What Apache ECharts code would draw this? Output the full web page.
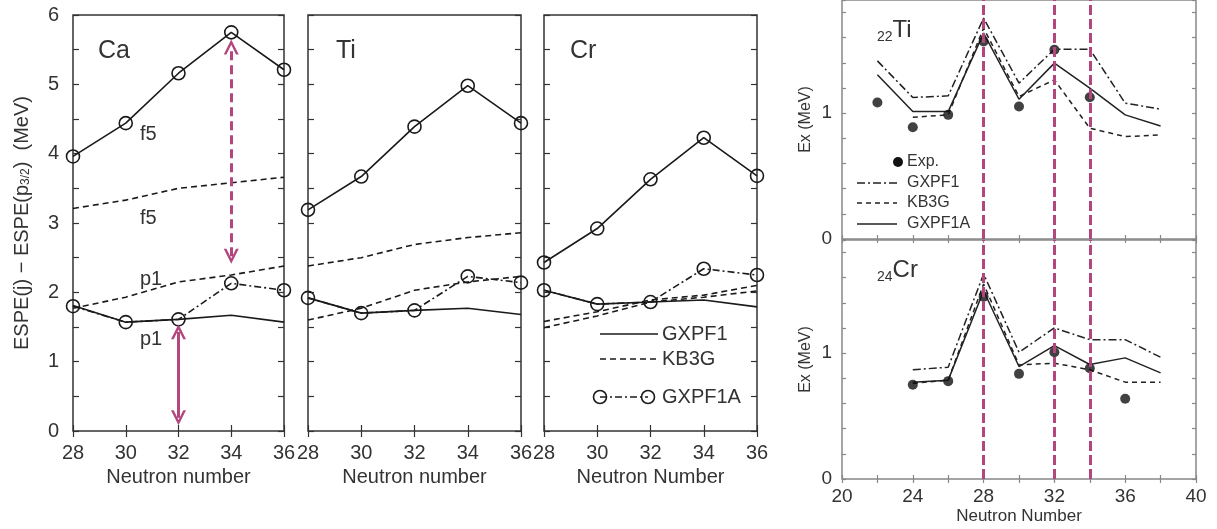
<!DOCTYPE html>
<html>
<head>
<meta charset="utf-8">
<script src="https://cdn.jsdelivr.net/npm/echarts@6/dist/echarts.min.js"></script>
<style>
html,body{margin:0;padding:0;background:#fff;}
#chart{width:1217px;height:529px;}
</style>
</head>
<body>
<div id="chart"></div>
<script>
// ---------- data ----------
const nLeft = [28, 30, 32, 34, 36];
// Ca
const caF5GXPF1A = [3.96, 4.44, 5.16, 5.75, 5.21];
const caF5KB3G   = [3.21, 3.33, 3.50, 3.58, 3.66];
const caP1KB3G   = [1.77, 1.93, 2.15, 2.25, 2.38];
const caP1GXPF1  = [1.81, 1.57, 1.61, 1.67, 1.57];
const caP1GXPF1A = [1.80, 1.57, 1.61, 2.13, 2.03];
// Ti
const tiF5GXPF1A = [3.19, 3.67, 4.39, 4.98, 4.44];
const tiF5KB3G   = [2.38, 2.50, 2.69, 2.79, 2.86];
const tiP1KB3G   = [1.60, 1.77, 2.03, 2.15, 2.23];
const tiP1GXPF1  = [1.92, 1.70, 1.74, 1.77, 1.68];
const tiP1GXPF1A = [1.92, 1.70, 1.74, 2.23, 2.14];
// Cr
const crF5GXPF1A = [2.43, 2.92, 3.63, 4.23, 3.68];
const crF5KB3G   = [1.58, 1.72, 1.89, 1.96, 2.10];
const crP1KB3G   = [1.49, 1.66, 1.86, 1.93, 2.02];
const crP1GXPF1  = [2.03, 1.83, 1.86, 1.89, 1.79];
const crP1GXPF1A = [2.03, 1.83, 1.86, 2.34, 2.25];

// right panels: 2+ excitation energies
const nRight   = [22, 24, 26, 28, 30, 32, 34, 36, 38];
const tiExp    = [1.085, 0.889, 0.987, 1.570, 1.053, 1.504, 1.127, null, null];
const tiGXPF1  = [1.416, 1.125, 1.138, 1.756, 1.239, 1.509, 1.509, 1.080, 1.032];
const tiKB3G   = [null, 0.968, 0.987, 1.676, 1.133, 1.265, 0.881, 0.814, 0.828];
const tiGXPF1A = [1.305, 1.013, 1.013, 1.637, 1.111, 1.398, 1.199, 0.987, 0.899];
const crExp    = [null, 0.749, 0.778, 1.450, 0.836, 1.008, 0.881, 0.638, null];
const crGXPF1  = [null, 0.868, 0.889, 1.630, 1.008, 1.201, 1.108, 1.108, 0.968];
const crKB3G   = [null, 0.760, 0.786, 1.550, 0.907, 0.921, 0.868, 0.770, 0.770];
const crGXPF1A = [null, 0.770, 0.786, 1.497, 0.894, 1.061, 0.910, 0.963, 0.844];

// annotations
const arrowSolid  = [[32, 0.19], [32, 1.43]];
const arrowDashed = [[34, 2.52], [34, 5.54]];
const shellLinesN = [28, 32, 34];

const panelNames = ['Ca', 'Ti', 'Cr'];
const leftXTicks = [28, 30, 32, 34, 36];

// ---------- styling ----------
const FONT = 'Liberation Sans, Arial, sans-serif';
const INK = '#1a1a1a';
const TXT = '#333';
const PINK = '#b3467d';
const DASHDOT = [7, 3, 2, 3];
const DASH = [6, 4];

const grids = [
  {left: 73,  top: 15, width: 211, height: 416},
  {left: 308, top: 15, width: 213, height: 416},
  {left: 544, top: 15, width: 213, height: 416},
  {left: 842, top: 0,  width: 354, height: 239},
  {left: 842, top: 240, width: 354, height: 239}
].map((g, i) => Object.assign(g, {
  show: true, borderColor: i < 3 ? '#333' : '#888', borderWidth: 1.5, backgroundColor: 'transparent'
}));

const xAxes = [], yAxes = [];
function isInt(v) { return Math.abs(v - Math.round(v)) < 1e-6; }
for (let i = 0; i < 5; i++) {
  const left = i < 3;
  const col = left ? '#333' : '#888';
  const tickLen = left ? 6 : 4;
  const xBase = left
    ? {type: 'value', min: 28, max: 36, interval: 2}
    : {type: 'value', min: 20, max: 40, interval: 2};
  const yBase = left
    ? {type: 'value', min: 0, max: 6, interval: 0.5}
    : {type: 'value', min: 0, max: 1.9, interval: 0.2};
  const showXLab = i !== 3;
  xAxes.push(Object.assign({}, xBase, {
    gridIndex: i, position: 'bottom',
    axisLine: {show: false}, splitLine: {show: false},
    axisTick: {show: true, inside: true, length: tickLen, lineStyle: {color: col, width: 1.2}},
    axisLabel: {
      show: showXLab, margin: left ? 12 : 8, fontSize: left ? 20 : 19, color: TXT, fontFamily: FONT,
      formatter: v => left ? String(v) : (v % 4 === 0 ? String(v) : '')
    },
    name: i === 3 ? '' : (i === 2 || i === 4 ? 'Neutron Number' : 'Neutron number'),
    nameLocation: 'middle', nameGap: left ? 36 : 29,
    nameTextStyle: {fontSize: left ? 20 : 17, color: TXT, fontFamily: FONT}
  }));
  xAxes.push(Object.assign({}, xBase, {
    gridIndex: i, position: 'top',
    axisLine: {show: false}, splitLine: {show: false}, axisLabel: {show: false},
    axisTick: {show: true, inside: true, length: tickLen, lineStyle: {color: col, width: 1.2}}
  }));
  const showYLab = (i === 0 || i >= 3);
  yAxes.push(Object.assign({}, yBase, {
    gridIndex: i, position: 'left',
    axisLine: {show: false}, splitLine: {show: false},
    axisTick: {show: true, inside: true, length: tickLen, lineStyle: {color: col, width: 1.2}},
    axisLabel: {
      show: showYLab, margin: left ? 14 : 10, fontSize: left ? 20 : 19, color: TXT, fontFamily: FONT,
      formatter: v => isInt(v) ? String(Math.round(v)) : ''
    },
    name: i === 0 ? 'ESPE(j) − ESPE(p{s|3/2})  (MeV)' : (i >= 3 ? 'Ex (MeV)' : ''),
    nameLocation: 'middle', nameRotate: 90, nameGap: i === 0 ? 41 : 28,
    nameTextStyle: {
      fontSize: i === 0 ? 20 : 16, color: TXT, fontFamily: FONT,
      rich: {s: {fontSize: 12, color: TXT, fontFamily: FONT, verticalAlign: 'bottom', padding: [8, 0, 0, 0]}}
    }
  }));
  yAxes.push(Object.assign({}, yBase, {
    gridIndex: i, position: 'right',
    axisLine: {show: false}, splitLine: {show: false}, axisLabel: {show: false},
    axisTick: {show: true, inside: true, length: tickLen, lineStyle: {color: col, width: 1.2}}
  }));
}

function pairs(xs, ys) { return xs.map((x, k) => [x, ys[k]]).filter(p => p[1] != null); }

function lineSeries(gi, xs, ys, type, circles, extra) {
  return Object.assign({
    type: 'line', xAxisIndex: gi * 2, yAxisIndex: gi * 2,
    data: pairs(xs, ys), silent: true, animation: false, z: 3,
    symbol: circles ? 'circle' : 'none', symbolSize: 13, showSymbol: !!circles,
    itemStyle: {color: 'rgba(255,255,255,0)', borderColor: INK, borderWidth: 1.6},
    lineStyle: {color: INK, width: 1.6, type: type}
  }, extra || {});
}

const CHEVRON = 'path://M0,10 L5,0 L10,10 L8.2,10 L5,3.6 L1.8,10 Z';

const leftSets = [
  [caF5GXPF1A, caF5KB3G, caP1KB3G, caP1GXPF1, caP1GXPF1A],
  [tiF5GXPF1A, tiF5KB3G, tiP1KB3G, tiP1GXPF1, tiP1GXPF1A],
  [crF5GXPF1A, crF5KB3G, crP1KB3G, crP1GXPF1, crP1GXPF1A]
];

const series = [];
leftSets.forEach((s, gi) => {
  series.push(lineSeries(gi, nLeft, s[1], DASH, false));
  series.push(lineSeries(gi, nLeft, s[2], DASH, false));
  series.push(lineSeries(gi, nLeft, s[3], 'solid', false));
  series.push(lineSeries(gi, nLeft, s[4], DASHDOT, true));
  series.push(lineSeries(gi, nLeft, s[0], 'solid', true));
});

// arrows in Ca panel
series.push({
  type: 'line', xAxisIndex: 0, yAxisIndex: 0, data: [], silent: true, animation: false, z: 6,
  markLine: {
    silent: true, animation: false, symbol: [CHEVRON, CHEVRON], symbolSize: 15,
    label: {show: false},
    lineStyle: {color: PINK, width: 3, type: 'solid'},
    data: [
      [{coord: arrowSolid[0], lineStyle: {type: 'solid', color: PINK, width: 3}},
       {coord: arrowSolid[1]}],
      [{coord: arrowDashed[0], lineStyle: {type: [9, 5], color: PINK, width: 3}},
       {coord: arrowDashed[1]}]
    ]
  }
});

// right panels
[[3, tiExp, tiGXPF1, tiKB3G, tiGXPF1A], [4, crExp, crGXPF1, crKB3G, crGXPF1A]].forEach(p => {
  const gi = p[0];
  series.push(lineSeries(gi, nRight, p[2], [8, 3, 2, 3], false, {lineStyle: {color: '#222', width: 1.5, type: [8, 3, 2, 3]}}));
  series.push(lineSeries(gi, nRight, p[3], [5, 4], false, {lineStyle: {color: '#222', width: 1.5, type: [5, 4]}}));
  series.push(lineSeries(gi, nRight, p[4], 'solid', false, {lineStyle: {color: '#222', width: 1.5, type: 'solid'}}));
  series.push({
    type: 'scatter', xAxisIndex: gi * 2, yAxisIndex: gi * 2, data: pairs(nRight, p[1]),
    symbol: 'circle', symbolSize: 10, itemStyle: {color: '#111'}, silent: true, animation: false, z: 4
  });
  series.push({
    type: 'line', xAxisIndex: gi * 2, yAxisIndex: gi * 2, data: [], silent: true, animation: false, z: 8,
    markLine: {
      silent: true, animation: false, symbol: ['none', 'none'], label: {show: false},
      lineStyle: {color: PINK, width: 3, type: [10, 4]},
      data: shellLinesN.map(n => ({xAxis: n}))
    }
  });
});

// ---------- text & legends ----------
const graphic = [];
function txt(x, y, text, size, extra) {
  graphic.push(Object.assign({
    type: 'text', x: x, y: y, silent: true,
    style: Object.assign({text: text, fontSize: size, fill: TXT, fontFamily: FONT, verticalAlign: 'middle'}, extra || {})
  }));
}
txt(98, 51, panelNames[0], 25);
txt(336, 51, panelNames[1], 25);
txt(570, 51, panelNames[2], 25);
txt(140, 134, 'f5', 20);
txt(140, 218, 'f5', 20);
txt(140, 279, 'p1', 20);
txt(140, 339, 'p1', 20);

// left legend (Cr panel)
graphic.push({type: 'line', silent: true, shape: {x1: 600, y1: 334, x2: 658, y2: 334}, style: {stroke: INK, lineWidth: 1.6}});
graphic.push({type: 'line', silent: true, shape: {x1: 600, y1: 359, x2: 658, y2: 359}, style: {stroke: INK, lineWidth: 1.6, lineDash: DASH}});
graphic.push({type: 'line', silent: true, shape: {x1: 600, y1: 397, x2: 648, y2: 397}, style: {stroke: INK, lineWidth: 1.6, lineDash: DASHDOT}});
graphic.push({type: 'circle', silent: true, shape: {cx: 600, cy: 397, r: 6.5}, style: {fill: 'rgba(255,255,255,0)', stroke: INK, lineWidth: 1.6}});
graphic.push({type: 'circle', silent: true, shape: {cx: 648, cy: 397, r: 6.5}, style: {fill: 'rgba(255,255,255,0)', stroke: INK, lineWidth: 1.6}});
txt(662, 334, 'GXPF1', 20);
txt(662, 359, 'KB3G', 20);
txt(662, 397, 'GXPF1A', 20);

// right legend (Ti panel)
graphic.push({type: 'circle', silent: true, shape: {cx: 898, cy: 162, r: 5}, style: {fill: '#111'}});
graphic.push({type: 'line', silent: true, shape: {x1: 857, y1: 183, x2: 897, y2: 183}, style: {stroke: '#222', lineWidth: 1.5, lineDash: [8, 3, 2, 3]}});
graphic.push({type: 'line', silent: true, shape: {x1: 857, y1: 203, x2: 897, y2: 203}, style: {stroke: '#222', lineWidth: 1.5, lineDash: [5, 4]}});
graphic.push({type: 'line', silent: true, shape: {x1: 857, y1: 224, x2: 897, y2: 224}, style: {stroke: '#222', lineWidth: 1.5}});
txt(907, 162, 'Exp.', 16);
txt(907, 183, 'GXPF1', 16);
txt(907, 203, 'KB3G', 16);
txt(907, 224, 'GXPF1A', 16);

// nucleus labels
graphic.push({type: 'text', x: 877, y: 16, silent: true, style: {
  text: '{s|22}{b|Ti}', fontFamily: FONT, fill: TXT,
  rich: {s: {fontSize: 14, fill: TXT, fontFamily: FONT, verticalAlign: 'bottom', padding: [14, 0, 0, 0]},
         b: {fontSize: 24, fill: TXT, fontFamily: FONT}}
}});
graphic.push({type: 'text', x: 877, y: 256, silent: true, style: {
  text: '{s|24}{b|Cr}', fontFamily: FONT, fill: TXT,
  rich: {s: {fontSize: 14, fill: TXT, fontFamily: FONT, verticalAlign: 'bottom', padding: [14, 0, 0, 0]},
         b: {fontSize: 24, fill: TXT, fontFamily: FONT}}
}});

const chart = echarts.init(document.getElementById('chart'), null, {renderer: 'canvas'});
chart.setOption({
  backgroundColor: '#fff',
  animation: false,
  textStyle: {fontFamily: FONT},
  grid: grids,
  xAxis: xAxes,
  yAxis: yAxes,
  series: series,
  graphic: graphic
});
</script>
</body>
</html>
